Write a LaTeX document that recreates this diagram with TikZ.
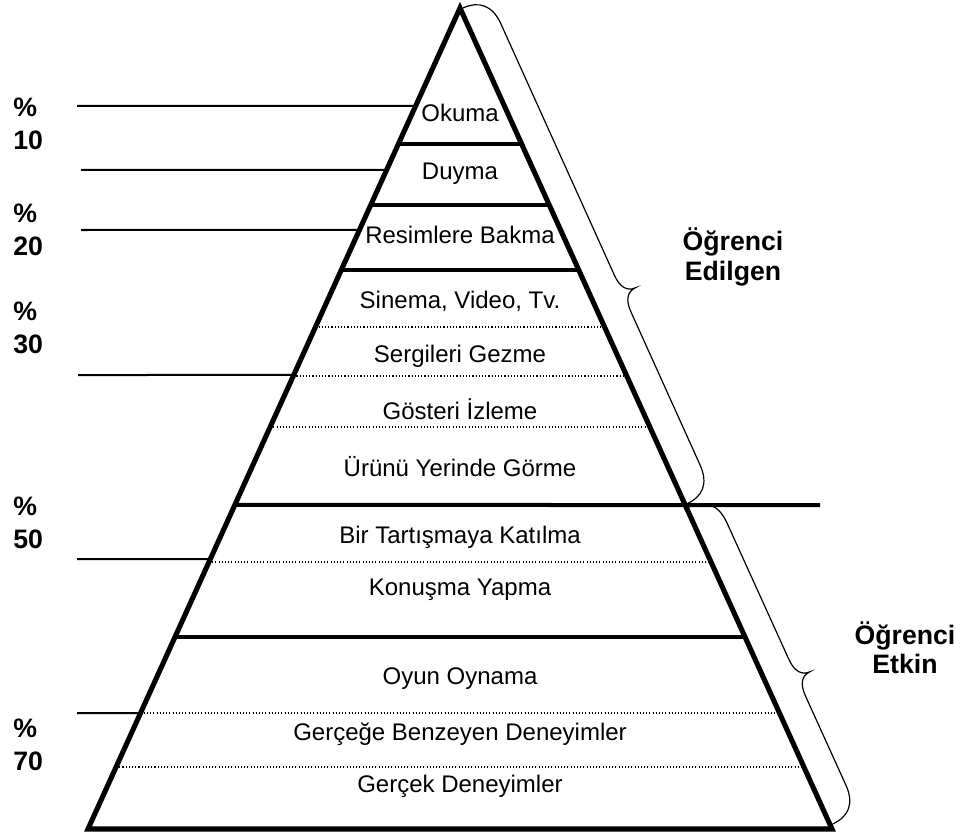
\documentclass[tikz,border=0pt]{standalone}
\usepackage{fontspec}
\setmainfont{Liberation Sans}
\usetikzlibrary{calc}

\tikzset{
    pics/curly/.style 2 args={code={
        % #1 = length of the brace, #2 = where the tip sits
        \draw[line width=0.9pt] (0,0) .. controls (0,17) and (9,28) .. (30,28)
            -- ({#2-20},28) .. controls ({#2-7},28) and (#2,33) .. (#2,42)
            .. controls (#2,33) and ({#2+7},28) .. ({#2+20},28)
            -- ({#1-30},28) .. controls ({#1-9},28) and (#1,17) .. (#1,0);
    }}
}

\begin{document}
\begin{tikzpicture}[
        x=0.75pt, y=-0.75pt,
        edge/.style={line width=3.8pt, line join=miter},
        sep/.style={line width=3pt},
        dots/.style={line width=0.8pt, dash pattern=on 0.8pt off 1.6pt},
        tick/.style={line width=1.5pt},
        lvl/.style={font=\fontsize{18}{21}\selectfont, inner sep=0pt},
        pct/.style={font=\fontsize{20}{24.5}\selectfont\bfseries, align=left, anchor=west, inner sep=0pt},
        side/.style={font=\fontsize{20}{22}\selectfont\bfseries, align=center, inner sep=0pt},
        brc/.style={x=0.75pt, y=0.75pt}
    ]
    \useasboundingbox (0,0) rectangle (966,834);

    % pyramid corners
    \coordinate (top) at (460,8);
    \coordinate (bl) at (88,829);
    \coordinate (br) at (832,829);

    % lines to the percentages
    \foreach \y/\x in {106/77, 170/81, 230/81, 375/78, 559/77, 713/77}
        \draw[tick] (\x,\y) -- ($(top)!{(\y-8)/821}!(bl)$);

    % layers
    \foreach \y in {327, 376, 427, 562, 713, 767}
        \draw[dots] ($(top)!{(\y-8)/821}!(bl)$) -- ($(top)!{(\y-8)/821}!(br)$);
    \foreach \y in {144, 205, 270, 637}
        \draw[sep] ($(top)!{(\y-8)/821}!(bl)$) -- ($(top)!{(\y-8)/821}!(br)$);
    \coordinate (midend) at (820,505);
    \draw[sep] ($(top)!{(505-8)/821}!(bl)$) -- (midend);

    \draw[edge] (top) -- (bl) -- (br) -- cycle;

    \node[lvl] (okuma) at (460,113) {Okuma};
    \node[lvl] (duyma) at (460,174) {Duyma};
    \node[lvl] (resim) at (460,235) {Resimlere Bakma};
    \node[lvl] (sinema) at (460,301) {Sinema, Video, Tv.};
    \node[lvl] (sergi) at (460,356) {Sergileri Gezme};
    \node[lvl] (gosteri) at (460,409) {Gösteri İzleme};
    \node[lvl] (urun) at (460,467) {Ürünü Yerinde Görme};
    \node[lvl] (tartisma) at (460,537) {Bir Tartışmaya Katılma};
    \node[lvl] (konusma) at (460,590) {Konuşma Yapma};
    \node[lvl] (oyun) at (460,679) {Oyun Oynama};
    \node[lvl] (benzer) at (460,734) {Gerçeğe Benzeyen Deneyimler};
    \node[lvl] (gercek) at (460,786) {Gerçek Deneyimler};

    % percentages
    \node[pct] (p10) at (13,124) {\%\\10};
    \node[pct] (p20) at (13,230) {\%\\20};
    \node[pct] (p30) at (13,328) {\%\\30};
    \node[pct] (p50) at (13,523) {\%\\50};
    \node[pct] (p70) at (13,745) {\%\\70};

    % braces
    \coordinate (b1s) at (463,8);
    \coordinate (b2s) at (689,507);
    \pic[brc, rotate=-65.7] at (b1s) {curly={544}{326}};
    \pic[brc, rotate=-65.6] at (b2s) {curly={348}{200}};

    \node[side] (edilgen) at (733,257) {Öğrenci\\Edilgen};
    \node[side] (etkin) at (905,648) {Öğrenci\\Etkin};

\end{tikzpicture}
\end{document}
